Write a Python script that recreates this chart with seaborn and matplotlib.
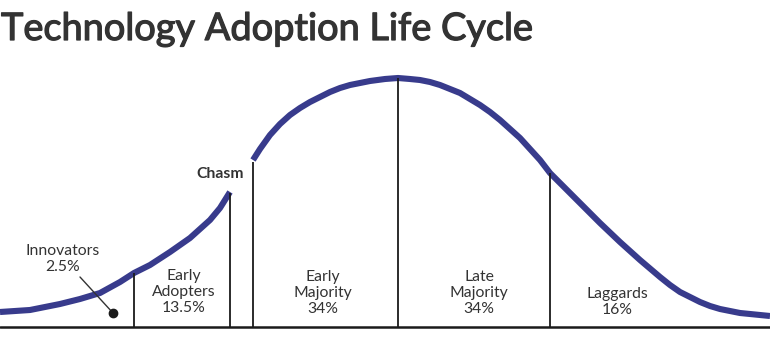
import pandas as pd
import matplotlib.pyplot as plt
import matplotlib.patheffects as pe
import seaborn as sns

# curve: x position, height above the baseline
x_left = [0, 30, 60, 80, 100, 120, 134, 150, 170, 190, 210, 220, 230]
h_left = [15, 17, 23, 28, 34, 45, 54, 62, 75, 89, 107, 119, 135]

x_right = [253, 260, 270, 280, 290, 300, 310, 320, 330, 340, 350, 360, 370, 385,
           398, 410, 420, 430, 440, 450, 460, 470, 480, 490, 500, 510, 520, 530,
           540, 550, 560, 580, 600, 620, 640, 660, 670, 680, 690, 700, 710, 720,
           740, 770]
h_right = [167, 178, 192, 203, 212, 219, 225, 230, 235, 239, 242, 244, 246, 248,
           249, 248, 247, 245, 242, 238, 234, 228, 222, 215, 207, 198, 189, 178,
           167, 154, 144, 124, 104, 85, 67, 50, 42, 35, 30, 25, 21, 18,
           14, 11]

# segment dividers
div_x = [134, 230, 253, 398, 550]
div_h = [54, 134, 165, 249, 154]

groups = ["Innovators\n2.5%", "Early\nAdopters\n13.5%", "Early\nMajority\n34%",
          "Late\nMajority\n34%", "Laggards\n16%"]
group_x = [63, 184, 323, 479, 617]
group_y = [68, 35, 34, 34, 25]

sns.set_style("white")
plt.rcParams['font.family'] = ['Lato', 'DejaVu Sans']

curve = pd.concat([
    pd.DataFrame({'x': x_left, 'h': h_left, 'part': 'left'}),
    pd.DataFrame({'x': x_right, 'h': h_right, 'part': 'right'}),
])

fig = plt.figure(figsize=(7.7, 3.6), dpi=100)
ax = fig.add_axes([0, 0, 1, 1])

ink = '#333333'
navy = '#383b8c'

sns.lineplot(data=curve, x='x', y='h', units='part', estimator=None,
             color=navy, lw=4.4, solid_capstyle='butt', ax=ax)

ax.vlines(div_x, 0, div_h, color='#1a1a1a', lw=1.3)
ax.axhline(0, color='#1a1a1a', lw=1.8)

for label, gx, gy in zip(groups, group_x, group_y):
    ax.text(gx, gy, label, ha='center', va='center', fontsize=11.3,
            color=ink, linespacing=1.2)

ax.text(220, 153, "Chasm", ha='center', va='center', fontsize=11.3,
        color=ink, fontweight='bold')

# pointer from the innovators label
ax.plot([80, 113], [50, 14], color=ink, lw=1)
ax.plot([113], [14], 'o', color='#1a1a1a', ms=6)

# title is a touch heavier than regular Lato
ax.text(1, 316, "Technology Adoption Life Cycle", ha='left', va='top',
        fontsize=27.3, color=ink,
        path_effects=[pe.withStroke(linewidth=0.9, foreground=ink)])

ax.set_xlim(0, 770)
ax.set_ylim(-33, 327)
ax.axis('off')

plt.savefig('out.png', dpi=100)
